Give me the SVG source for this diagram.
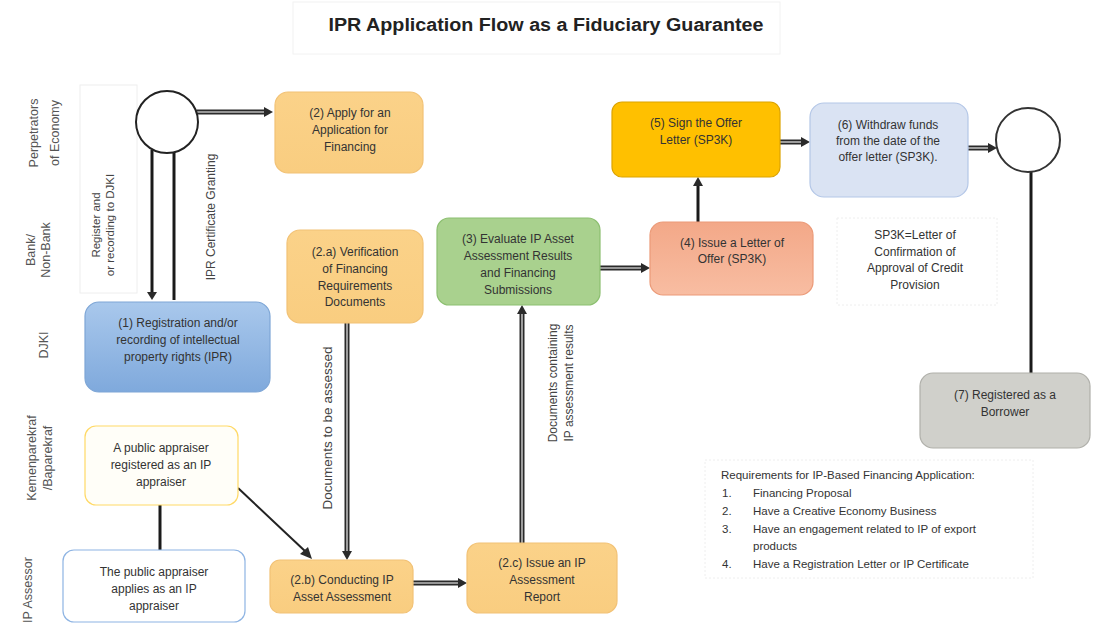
<svg xmlns="http://www.w3.org/2000/svg" width="1096" height="624" viewBox="0 0 1096 624">
<defs>
<style>
text{font-family:"Liberation Sans",Arial,sans-serif;font-size:12px;fill:#333}
.c{text-anchor:middle}
.lane{font-size:12.5px;fill:#555;text-anchor:middle}
.lbl{font-size:12px;fill:#444;text-anchor:middle}
.box{stroke-width:1.2}
.dbl{fill:none;stroke:#2a2a2a;stroke-width:5}
.dbli{fill:none;stroke:#bbb;stroke-width:1.6}
.ln{fill:none;stroke:#1a1a1a;stroke-width:3}
.ah{fill:#2a2a2a}
</style>
<linearGradient id="gBlue" x1="0" y1="0" x2="0" y2="1"><stop offset="0" stop-color="#a9c8ec"/><stop offset="1" stop-color="#7fa9dc"/></linearGradient>
<linearGradient id="gSal" x1="0" y1="0" x2="0" y2="1"><stop offset="0" stop-color="#f3a888"/><stop offset="1" stop-color="#f8bda2"/></linearGradient>
<linearGradient id="gOr" x1="0" y1="0" x2="0" y2="1"><stop offset="0" stop-color="#fbd289"/><stop offset="1" stop-color="#f9cd80"/></linearGradient>
</defs>
<rect width="1096" height="624" fill="#fff"/>

<g id="title">
<rect x="293" y="2" width="487" height="52" fill="none" stroke="#f2f2f2"/>
<text x="546" y="31" class="c" style="font-size:17.5px;font-weight:bold;fill:#222" textLength="435" lengthAdjust="spacingAndGlyphs">IPR Application Flow as a Fiduciary Guarantee</text>
</g>

<g id="lanes">
<text class="lane" transform="translate(38,133) rotate(-90)">Perpetrators</text>
<text class="lane" transform="translate(59,133) rotate(-90)">of Economy</text>
<text class="lane" transform="translate(35,250) rotate(-90)">Bank/</text>
<text class="lane" transform="translate(50,250) rotate(-90)">Non-Bank</text>
<text class="lane" transform="translate(48,345) rotate(-90)">DJKI</text>
<text class="lane" transform="translate(36,458) rotate(-90)">Kemenparekraf</text>
<text class="lane" transform="translate(52,458) rotate(-90)">/Baparekraf</text>
<text class="lane" transform="translate(32,590) rotate(-90)">IP Assessor</text>
</g>

<g id="connectors">
<!-- circle1 -> (2) -->
<path class="dbl" d="M197 112 H266"/><path class="dbli" d="M197 112 H266"/>
<polygon class="ah" points="264,107 273,112 264,117"/>
<!-- circle1 -> (1) -->
<path class="ln" d="M152 150 V293"/>
<polygon class="ah" points="147,292 152,300 157,292"/>
<path class="ln" d="M174 151 V300"/>
<!-- (2.a) -> (2.b) -->
<path class="dbl" d="M347 323 V552"/><path class="dbli" d="M347 323 V552"/>
<polygon class="ah" points="342,551 347,560 352,551"/>
<!-- (2.b) -> (2.c) -->
<path class="dbl" d="M413 583 H459"/><path class="dbli" d="M413 583 H459"/>
<polygon class="ah" points="458,578 467,583 458,588"/>
<!-- (2.c) -> (3) -->
<path class="dbl" d="M522 543 V313"/><path class="dbli" d="M522 543 V313"/>
<polygon class="ah" points="517,314 522,305 527,314"/>
<!-- (3) -> (4) -->
<path class="dbl" d="M600 268 H642"/><path class="dbli" d="M600 268 H642"/>
<polygon class="ah" points="641,263 650,268 641,273"/>
<!-- (4) -> (5) -->
<path class="ln" d="M698 222 V185"/>
<polygon class="ah" points="693,186 698,177 703,186"/>
<!-- (5) -> (6) -->
<path class="dbl" d="M780 142 H802"/><path class="dbli" d="M780 142 H802"/>
<polygon class="ah" points="801,137 810,142 801,147"/>
<!-- (6) -> circle2 -->
<path class="dbl" d="M968 148 H989"/><path class="dbli" d="M968 148 H989"/>
<polygon class="ah" points="988,143 997,148 988,153"/>
<!-- circle2 -> (7) -->
<path class="ln" d="M1031 172 V373"/>
<!-- public appraiser -> IP appraiser -->
<path class="ln" d="M160 505 V550"/>
<!-- public appraiser -> (2.b) -->
<path d="M238 488 L306 552" fill="none" stroke="#222" stroke-width="2"/>
<polygon class="ah" points="300,554 312,559 308,547"/>
<!-- labels -->
<text class="lbl" style="font-size:11.5px" transform="translate(100,225) rotate(-90)">Register and</text>
<text class="lbl" style="font-size:11.5px" transform="translate(114,225) rotate(-90)">or recording to DJKI</text>
<text class="lbl" style="font-size:12px" transform="translate(215,217) rotate(-90)">IPR Certificate Granting</text>
<text class="lbl" style="font-size:13.5px" transform="translate(332,428) rotate(-90)">Documents to be assessed</text>
<text class="lbl" transform="translate(557,383) rotate(-90)">Documents containing</text>
<text class="lbl" transform="translate(573,383) rotate(-90)">IP assessment results</text>
</g>

<g id="regbox">
<rect x="80" y="85" width="57" height="208" fill="none" stroke="#eeeeee"/>
</g>

<g id="circle1"><circle cx="167" cy="122" r="31" fill="#fff" stroke="#222" stroke-width="2"/></g>
<g id="circle2"><circle cx="1028" cy="140" r="32" fill="#fff" stroke="#333" stroke-width="2"/></g>

<g id="n2">
<rect class="box" x="275" y="92" width="148" height="81" rx="13" fill="url(#gOr)" stroke="#f2c276"/>
<text class="c" x="350" y="117">(2) Apply for an</text>
<text class="c" x="350" y="134">Application for</text>
<text class="c" x="350" y="151">Financing</text>
</g>

<g id="n2a">
<rect class="box" x="287" y="230" width="136" height="93" rx="13" fill="url(#gOr)" stroke="#f2c276"/>
<text class="c" x="355" y="256">(2.a) Verification</text>
<text class="c" x="355" y="273">of Financing</text>
<text class="c" x="355" y="290">Requirements</text>
<text class="c" x="355" y="306">Documents</text>
</g>

<g id="n3">
<rect class="box" x="437" y="218" width="163" height="87" rx="12" fill="#a9d18e" stroke="#8cbf70"/>
<text class="c" x="518" y="243">(3) Evaluate IP Asset</text>
<text class="c" x="518" y="260">Assessment Results</text>
<text class="c" x="518" y="277">and Financing</text>
<text class="c" x="518" y="294">Submissions</text>
</g>

<g id="n4">
<rect class="box" x="650" y="222" width="163" height="73" rx="13" fill="url(#gSal)" stroke="#eb9a78"/>
<text class="c" x="732" y="247">(4) Issue a Letter of</text>
<text class="c" x="732" y="263">Offer (SP3K)</text>
</g>

<g id="n5">
<rect class="box" x="612" y="102" width="168" height="75" rx="10" fill="#ffc000" stroke="#dca300"/>
<text class="c" x="696" y="127">(5) Sign the Offer</text>
<text class="c" x="696" y="144">Letter (SP3K)</text>
</g>

<g id="n6">
<rect class="box" x="810" y="103" width="158" height="94" rx="14" fill="#dae3f3" stroke="#b4c7e7"/>
<text class="c" x="888" y="129">(6) Withdraw funds</text>
<text class="c" x="888" y="145">from the date of the</text>
<text class="c" x="888" y="161">offer letter (SP3K).</text>
</g>

<g id="note">
<rect x="837" y="218" width="160" height="87" fill="none" stroke="#eeeeee" stroke-dasharray="2 2"/>
<text class="c" x="915" y="239">SP3K=Letter of</text>
<text class="c" x="915" y="256">Confirmation of</text>
<text class="c" x="915" y="272">Approval of Credit</text>
<text class="c" x="915" y="289">Provision</text>
</g>

<g id="n7">
<rect class="box" x="920" y="373" width="170" height="75" rx="13" fill="#d0d0cb" stroke="#b0b0aa"/>
<text class="c" x="1005" y="399">(7) Registered as a</text>
<text class="c" x="1005" y="416">Borrower</text>
</g>

<g id="n1">
<rect class="box" x="85" y="302" width="185" height="90" rx="14" fill="url(#gBlue)" stroke="#7ea6d6"/>
<text class="c" x="178" y="327">(1) Registration and/or</text>
<text class="c" x="178" y="344">recording of intellectual</text>
<text class="c" x="178" y="361">property rights (IPR)</text>
</g>

<g id="pubappr">
<rect class="box" x="85" y="426" width="153" height="79" rx="11" fill="#fffef8" stroke="#ffd966" stroke-width="1.5"/>
<text class="c" x="161" y="452">A public appraiser</text>
<text class="c" x="161" y="469">registered as an IP</text>
<text class="c" x="161" y="486">appraiser</text>
</g>

<g id="ipappr">
<rect class="box" x="63" y="550" width="182" height="72" rx="11" fill="#fff" stroke="#8eb4e3" stroke-width="1.5"/>
<text class="c" x="154" y="576">The public appraiser</text>
<text class="c" x="154" y="593">applies as an IP</text>
<text class="c" x="154" y="610">appraiser</text>
</g>

<g id="n2b">
<rect class="box" x="270" y="560" width="143" height="53" rx="10" fill="url(#gOr)" stroke="#f2c276"/>
<text class="c" x="342" y="584">(2.b) Conducting IP</text>
<text class="c" x="342" y="601">Asset Assessment</text>
</g>

<g id="n2c">
<rect class="box" x="467" y="543" width="150" height="70" rx="12" fill="url(#gOr)" stroke="#f2c276"/>
<text class="c" x="542" y="567">(2.c) Issue an IP</text>
<text class="c" x="542" y="584">Assessment</text>
<text class="c" x="542" y="601">Report</text>
</g>

<g id="reqs">
<rect x="705" y="460" width="328" height="118" fill="none" stroke="#eeeeee" stroke-dasharray="2 2"/>
<text x="721" y="479" style="font-size:11.5px">Requirements for IP-Based Financing Application:</text>
<text x="722" y="497" style="font-size:11.5px">1.</text><text x="753" y="497" style="font-size:11.5px">Financing Proposal</text>
<text x="722" y="515" style="font-size:11.5px">2.</text><text x="753" y="515" style="font-size:11.5px">Have a Creative Economy Business</text>
<text x="722" y="533" style="font-size:11.5px">3.</text><text x="753" y="533" style="font-size:11.5px">Have an engagement related to IP of export</text>
<text x="753" y="550" style="font-size:11.5px">products</text>
<text x="722" y="568" style="font-size:11.5px">4.</text><text x="753" y="568" style="font-size:11.5px">Have a Registration Letter or IP Certificate</text>
</g>
</svg>
